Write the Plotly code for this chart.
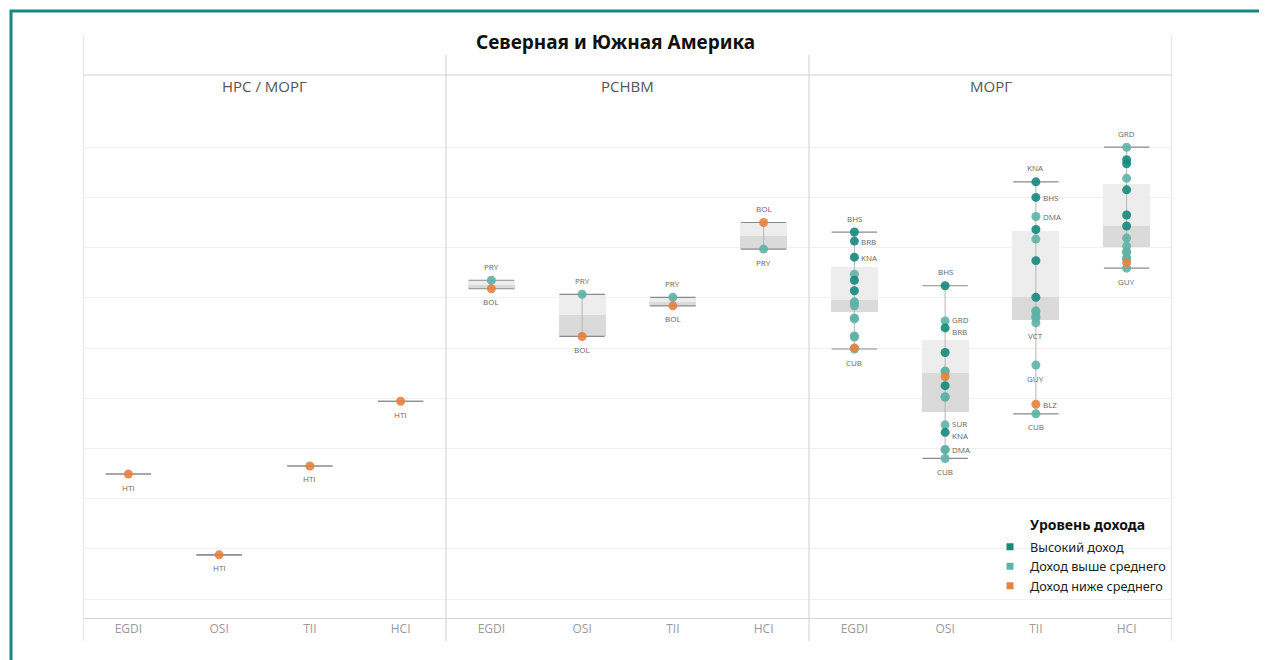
import plotly.graph_objects as go
import numpy as np

# ---------------- data ----------------
TITLE = "Северная и Южная Америка"
INDICATORS = ["EGDI", "OSI", "TII", "HCI"]
GROUPS = ["НРС / МОРГ", "РСНВМ", "МОРГ"]
LEGEND_TITLE = "Уровень дохода"
INCOME_LEVELS = ["Высокий доход", "Доход выше среднего", "Доход ниже среднего"]
HI, UM, LM = INCOME_LEVELS

# НРС / МОРГ
G1_COUNTRIES = ["HTI"]
G1_INCOME = [LM]
G1_EGDI = [0.249]
G1_OSI = [0.088]
G1_TII = [0.265]
G1_HCI = [0.394]

# РСНВМ
G2_COUNTRIES = ["PRY", "BOL"]
G2_INCOME = [UM, LM]
G2_EGDI = [0.635, 0.618]
G2_OSI = [0.607, 0.523]
G2_TII = [0.601, 0.584]
G2_HCI = [0.697, 0.750]

# МОРГ
G3_COUNTRIES = ["ATG", "BHS", "BRB", "KNA", "TTO", "BLZ", "CUB", "DMA",
                "DOM", "GRD", "GUY", "JAM", "LCA", "VCT", "SUR"]
G3_INCOME = [HI, HI, HI, HI, HI, LM, UM, UM, UM, UM, UM, UM, UM, UM, UM]
G3_EGDI = [0.635, 0.731, 0.713, 0.681, 0.614, 0.500, 0.498, 0.590,
           0.584, 0.592, 0.522, 0.647, 0.560, 0.558, 0.524]
G3_OSI = [0.491, 0.624, 0.540, 0.332, 0.425, 0.443, 0.280, 0.298,
          0.453, 0.554, 0.297, 0.403, 0.454, 0.402, 0.347]
G3_TII = [0.736, 0.800, 0.674, 0.831, 0.601, 0.388, 0.369, 0.762,
          0.572, 0.717, 0.466, 0.564, 0.574, 0.550, 0.560]
G3_HCI = [0.815, 0.867, 0.875, 0.765, 0.743, 0.670, 0.838, 0.719,
          0.691, 0.900, 0.659, 0.692, 0.703, 0.679, 0.678]

# box statistics (lower quartile, median, upper quartile) per panel x indicator
BOX_Q1 = [0.249, 0.088, 0.265, 0.394,
          0.618, 0.523, 0.584, 0.697,
          0.572, 0.373, 0.556, 0.702]
BOX_MED = [0.249, 0.088, 0.265, 0.394,
           0.6265, 0.565, 0.5925, 0.7235,
           0.596, 0.451, 0.601, 0.744]
BOX_Q3 = [0.249, 0.088, 0.265, 0.394,
          0.635, 0.607, 0.601, 0.750,
          0.661, 0.516, 0.734, 0.827]

# country labels shown (panel, indicator, country, placement, vertical nudge px)
LABELS = [
    (0, "EGDI", "HTI", "below", 0), (0, "OSI", "HTI", "below", 0),
    (0, "TII", "HTI", "below", 0), (0, "HCI", "HTI", "below", 0),
    (1, "EGDI", "PRY", "above", 0), (1, "EGDI", "BOL", "below", 0),
    (1, "OSI", "PRY", "above", 0), (1, "OSI", "BOL", "below", 0),
    (1, "TII", "PRY", "above", 0), (1, "TII", "BOL", "below", 0),
    (1, "HCI", "BOL", "above", 0), (1, "HCI", "PRY", "below", 0),
    (2, "EGDI", "BHS", "above", 0), (2, "EGDI", "BRB", "right", 0),
    (2, "EGDI", "KNA", "right", 0), (2, "EGDI", "CUB", "below", 0),
    (2, "OSI", "BHS", "above", 0), (2, "OSI", "GRD", "right", 1),
    (2, "OSI", "BRB", "right", -4), (2, "OSI", "SUR", "right", 1),
    (2, "OSI", "KNA", "right", -3), (2, "OSI", "DMA", "right", 0),
    (2, "OSI", "CUB", "below", 0),
    (2, "TII", "KNA", "above", 0), (2, "TII", "BHS", "right", 0),
    (2, "TII", "DMA", "right", 0), (2, "TII", "VCT", "below", 0),
    (2, "TII", "GUY", "below", 0), (2, "TII", "BLZ", "right", 0),
    (2, "TII", "CUB", "below", 0),
    (2, "HCI", "GRD", "above", 0), (2, "HCI", "GUY", "below", 0),
]

# ---------------- styling / layout ----------------
COLORS = {HI: "#14897c", UM: "#5fb3a6", LM: "#e5823f"}
OFF = 8                      # page body margin
W, H = 1259, 652
PL, PR, PT, PB = 83, 1172, 97, 618   # plot area in page pixels
ML, MR = PL - OFF, W - (PR - OFF)
MT, MB = PT - OFF, H - (PB - OFF)
Y_RANGE = [-0.0378, 1.0]
FONT = "Open Sans"


def pxx(px):
    return (px - PL) / (PR - PL)


def pyy(py):
    return (PB - py) / (PB - PT)


groups = [
    (G1_COUNTRIES, G1_INCOME, {"EGDI": G1_EGDI, "OSI": G1_OSI, "TII": G1_TII, "HCI": G1_HCI}),
    (G2_COUNTRIES, G2_INCOME, {"EGDI": G2_EGDI, "OSI": G2_OSI, "TII": G2_TII, "HCI": G2_HCI}),
    (G3_COUNTRIES, G3_INCOME, {"EGDI": G3_EGDI, "OSI": G3_OSI, "TII": G3_TII, "HCI": G3_HCI}),
]

fig = go.Figure()

positions = list(range(len(GROUPS) * len(INDICATORS)))
q1 = np.array(BOX_Q1)
med = np.array(BOX_MED)
q3 = np.array(BOX_Q3)

# box halves
fig.add_trace(go.Bar(x=positions, y=med - q1, base=q1, width=0.52,
                     marker=dict(color="#dadada", line=dict(width=0)),
                     hoverinfo="skip", showlegend=False))
fig.add_trace(go.Bar(x=positions, y=q3 - med, base=med, width=0.52,
                     marker=dict(color="#ededed", line=dict(width=0)),
                     hoverinfo="skip", showlegend=False))

# whiskers and caps
wx, wy, cx, cy = [], [], [], []
for gi, (countries, income, vals) in enumerate(groups):
    for ii, ind in enumerate(INDICATORS):
        p = gi * len(INDICATORS) + ii
        v = np.array(vals[ind])
        lo, hi = float(v.min()), float(v.max())
        wx += [p, p, None]
        wy += [lo, hi, None]
        for val in (lo, hi):
            cx += [p - 0.25, p + 0.25, None]
            cy += [val, val, None]
fig.add_trace(go.Scatter(x=wx, y=wy, mode="lines", line=dict(color="#b5b5b5", width=1),
                         hoverinfo="skip", showlegend=False))
fig.add_trace(go.Scatter(x=cx, y=cy, mode="lines", line=dict(color="#8a8a8a", width=1.2),
                         hoverinfo="skip", showlegend=False))

# points by income level
for level in [UM, HI, LM]:
    px_, py_, tx = [], [], []
    for gi, (countries, income, vals) in enumerate(groups):
        for ii, ind in enumerate(INDICATORS):
            p = gi * len(INDICATORS) + ii
            for c, inc, val in zip(countries, income, vals[ind]):
                if inc == level:
                    px_.append(p)
                    py_.append(val)
                    tx.append(f"{c} {ind}: {val:.3f}")
    fig.add_trace(go.Scatter(x=px_, y=py_, mode="markers", text=tx, hoverinfo="text",
                             marker=dict(size=9, color=COLORS[level], opacity=0.9,
                                         line=dict(width=0)),
                             showlegend=False))

# legend entries
for level in INCOME_LEVELS:
    fig.add_trace(go.Scatter(x=[None], y=[None], mode="markers", name=level,
                             marker=dict(symbol="square", size=7, color=COLORS[level])))

annotations = []
# country labels
for gi, ind, c, where, nudge in LABELS:
    countries, income, vals = groups[gi]
    ii = INDICATORS.index(ind)
    p = gi * len(INDICATORS) + ii
    val = vals[ind][countries.index(c)]
    a = dict(x=p, y=val, xref="x", yref="y", text=c, showarrow=False,
             font=dict(family=FONT, size=8, color="#666666"))
    if where == "above":
        a.update(yshift=14 + nudge)
    elif where == "below":
        a.update(yshift=-13 + nudge)
    else:
        a.update(xanchor="left", xshift=5, yshift=nudge)
    annotations.append(a)

# panel headers
for gi, g in enumerate(GROUPS):
    annotations.append(dict(x=gi * 4 + 1.5, y=pyy(86), xref="x", yref="paper", text=g,
                            showarrow=False, yanchor="middle",
                            font=dict(family=FONT, size=15, color="#555555")))
# title
annotations.append(dict(x=pxx(615), y=pyy(42), xref="paper", yref="paper",
                        text=f"<b>{TITLE}</b>", showarrow=False, yanchor="middle",
                        font=dict(family="Noto Sans", size=19, color="#111111")))
# legend title
annotations.append(dict(x=pxx(1028), y=pyy(524), xref="paper", yref="paper",
                        text=f"<b>{LEGEND_TITLE}</b>", showarrow=False,
                        xanchor="left", yanchor="middle",
                        font=dict(family="Noto Sans", size=14, color="#111111")))

shapes = []
# outer teal frame
shapes.append(dict(type="rect", xref="paper", yref="paper", x0=pxx(11), x1=pxx(1320),
                   y0=pyy(720), y1=pyy(11), line=dict(color="#17877f", width=3),
                   fillcolor="rgba(0,0,0,0)", layer="above"))
# panel separators
for xv, top in [(-0.5, 35), (3.5, 55), (7.5, 55), (11.5, 35)]:
    shapes.append(dict(type="line", xref="x", yref="paper", x0=xv, x1=xv,
                       y0=pyy(641), y1=pyy(top), line=dict(color="#cfcfcf", width=1)))
# header line
shapes.append(dict(type="line", xref="x", yref="paper", x0=-0.5, x1=11.5,
                   y0=pyy(75), y1=pyy(75), line=dict(color="#d0d0d0", width=1)))

fig.update_layout(
    width=W, height=H,
    margin=dict(l=ML, r=MR, t=MT, b=MB),
    paper_bgcolor="white", plot_bgcolor="white",
    barmode="overlay", bargap=0,
    showlegend=True,
    legend=dict(x=pxx(990), y=pyy(532), xanchor="left", yanchor="top",
                bgcolor="rgba(0,0,0,0)", itemwidth=30, tracegroupgap=0,
                font=dict(family="Noto Sans", size=12.7, color="#222222")),
    annotations=annotations,
    shapes=shapes,
    xaxis=dict(range=[-0.5, 11.5], tickmode="array", tickvals=positions,
               ticktext=INDICATORS * len(GROUPS), showgrid=False, zeroline=False,
               showline=True, linecolor="#d6d6d6", linewidth=1, ticks="",
               tickfont=dict(family=FONT, size=12, color="#9a9a9a"), fixedrange=True),
    yaxis=dict(range=Y_RANGE, dtick=0.1, tick0=0, showgrid=True, gridcolor="#f0f0f0",
               zeroline=False, showticklabels=False, showline=False, fixedrange=True),
    hovermode="closest",
)

fig.write_html("out.html")
